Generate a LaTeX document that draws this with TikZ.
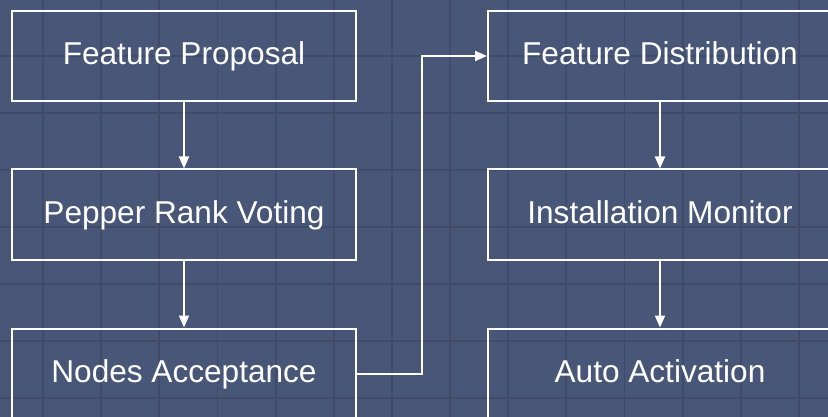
\documentclass[tikz,border=0pt]{standalone}
\usepackage{fontspec}
\setmainfont{Liberation Sans}
\usetikzlibrary{arrows.meta}
\definecolor{bgcol}{HTML}{485678}
\definecolor{gridcol}{HTML}{3F4B69}
\tikzset{
  stepbox/.style={draw=white, line width=2pt, minimum width=344pt, minimum height=90pt,
    inner sep=0pt, text=white, text height=25pt, text depth=7pt,
    font=\fontsize{31.6}{38}\selectfont},
  conn/.style={draw=white, line width=2pt, -{Triangle[length=12pt,width=10pt]}},
  gridline/.style={draw=gridcol, line width=1.8pt}
}
\begin{document}
\begin{tikzpicture}[x=1pt,y=-1pt]
\useasboundingbox (0,0) rectangle (828,417);
\fill[bgcol] (0,0) rectangle (828,417);
\begin{scope}
\clip (0,0) rectangle (828,417);
\foreach \k in {0,...,13} {\draw[gridline] ({43+58.15*\k},0) -- ({43+58.15*\k},417);}
\foreach \k in {-1,...,6} {\draw[gridline] (0,{56+57*\k}) -- (828,{56+57*\k});}
\node[stepbox] (fp) at (184,56) {Feature Proposal};
\node[stepbox] (prv) at (184,214.5) {Pepper Rank Voting};
\node[stepbox] (na) at (184,373.5) {Nodes Acceptance};
\node[stepbox] (fd) at (660,56) {Feature Distribution};
\node[stepbox] (im) at (660,214.5) {Installation Monitor};
\node[stepbox] (aa) at (660,373.5) {Auto Activation};
\draw[conn] (fp) -- (prv);
\draw[conn] (prv) -- (na);
\draw[conn] (fd) -- (im);
\draw[conn] (im) -- (aa);
\coordinate (bend) at (422,0);
\draw[conn] (na.east) -- (na.east -| bend) -- (fd.west -| bend) -- (fd.west);
\end{scope}
\end{tikzpicture}
\end{document}
